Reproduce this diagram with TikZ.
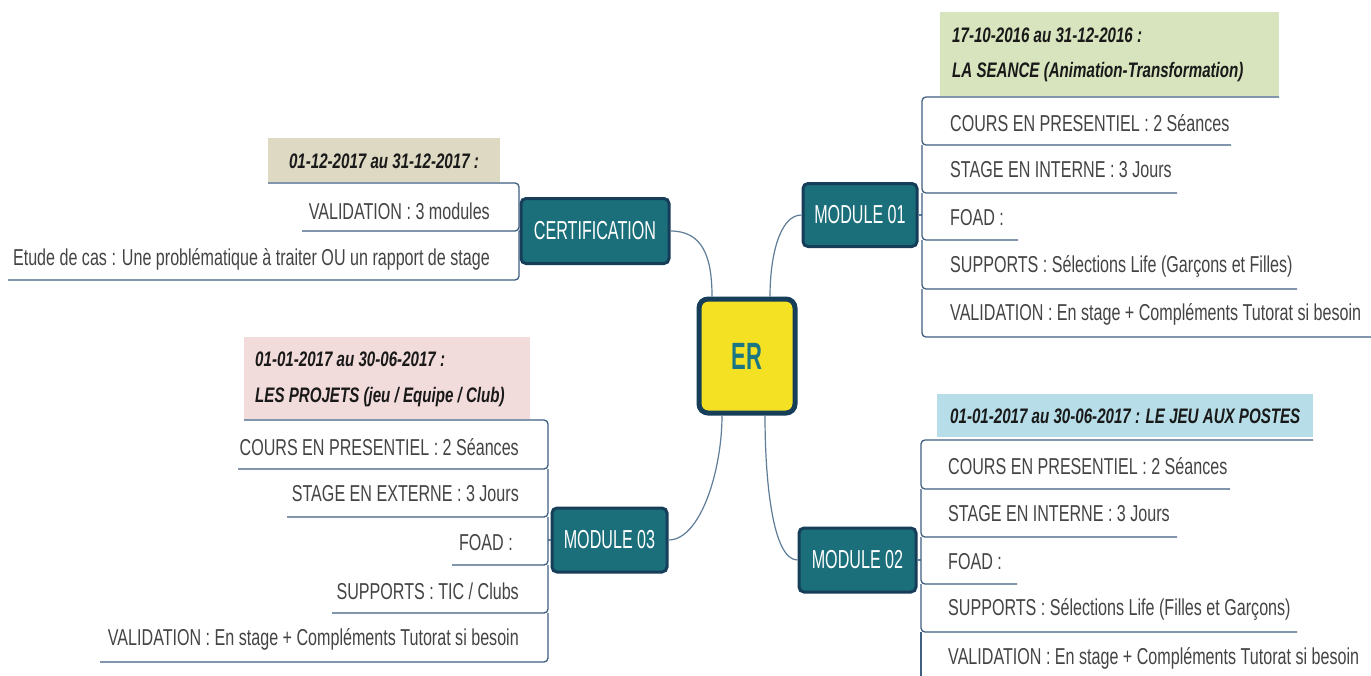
\documentclass[tikz,border=0pt]{standalone}
\usepackage{fontspec}
\setmainfont{Liberation Sans}[FakeStretch=0.70]
\newfontfamily\itemfont{Liberation Sans}[FakeStretch=0.70]
\newfontfamily\hdrfont{Liberation Sans}[FakeStretch=0.72]
\newfontfamily\modfont{Liberation Sans}[FakeStretch=0.62]
\newfontfamily\erfont{Liberation Sans}[FakeStretch=0.58]
\usetikzlibrary{calc}
\definecolor{tealbox}{HTML}{1B6F7A}
\definecolor{navy}{HTML}{163E58}
\definecolor{yel}{HTML}{F4E124}
\definecolor{ertxt}{HTML}{1B7683}
\definecolor{linec}{HTML}{3E5F80}
\definecolor{conn}{HTML}{5E7D98}
\definecolor{txtc}{HTML}{444444}
\definecolor{hgreen}{HTML}{D7E4BD}
\definecolor{htan}{HTML}{DDD9C3}
\definecolor{hpink}{HTML}{F2DCDB}
\definecolor{hblue}{HTML}{B7DEE8}
\tikzset{
  modbox/.style={draw=navy, line width=3pt, fill=tealbox, rounded corners=5pt, text=white, inner sep=0pt, font=\modfont\fontsize{26}{30}\selectfont},
  erbox/.style={draw=navy, line width=5pt, fill=yel, rounded corners=9pt, text=ertxt, inner sep=0pt, font=\erfont\bfseries\fontsize{38}{44}\selectfont},
  item/.style={text=txtc, inner sep=0pt, font=\itemfont\fontsize{23}{27}\selectfont},
  hdr/.style={inner sep=0pt, font=\hdrfont\fontsize{21}{25}\selectfont\bfseries\itshape, text=black!90},
  br/.style={draw=linec, line width=1.3pt, rounded corners=4pt},
  cn/.style={draw=conn, line width=1.2pt}
}
\begin{document}
\begin{tikzpicture}[x=1pt,y=-1pt]
\useasboundingbox[fill=white] (0,0) rectangle (1371,675);
% central node
\node[erbox, minimum width=96pt, minimum height=114pt] (er) at (747,356) {ER};
% modules
\node[modbox, minimum width=114pt, minimum height=63pt] (m1) at (860,215) {MODULE 01};
\node[modbox, minimum width=117pt, minimum height=64pt] (m2) at (857.5,560) {MODULE 02};
\node[modbox, minimum width=115pt, minimum height=64pt] (m3) at (609.5,540) {MODULE 03};
\node[modbox, minimum width=148pt, minimum height=65pt] (cert) at (595,231) {CERTIFICATION};
% connectors
\draw[cn] (cert.east) .. controls +(32,0) and +(0,-40) .. ([xshift=-35pt]er.north);
\draw[cn] (m1.west) .. controls +(-22,0) and +(0,-40) .. ([xshift=23pt]er.north);
\draw[cn] (m3.east) .. controls +(32,0) and +(0,55) .. ([xshift=-25pt]er.south);
\draw[cn] (m2.west) .. controls +(-25,0) and +(0,65) .. ([xshift=18pt]er.south);

% ---------- MODULE 01 ----------
\node[fill=hgreen, minimum width=339pt, minimum height=84pt, inner sep=0pt] (h1) at (1109.5,54) {};
\node[hdr, anchor=west] (h1a) at (952,35) {17-10-2016 au 31-12-2016 :};
\node[hdr, anchor=west] (h1b) at (952,72) {LA SEANCE (Animation-Transformation)};
\coordinate (b1) at (922,215);
\draw[cn] (m1.east) -- (b1);
\draw[br] (1279,97) -- (922,97) -- (922,145) -- (1231,145);
\draw[br] (922,145) -- (922,193) -- (1177,193);
\draw[br] (922,193) -- (922,240) -- (1018,240);
\draw[br] (922,240) -- (922,289) -- (1297,289);
\draw[br] (922,289) -- (922,337) -- (1371,337);
\node[item, anchor=west] (a1) at (950,123) {COURS EN PRESENTIEL : 2 Séances};
\node[item, anchor=west] (a2) at (950,170) {STAGE EN INTERNE : 3 Jours};
\node[item, anchor=west] (a3) at (950,218) {FOAD :};
\node[item, anchor=west] (a4) at (950,266) {SUPPORTS : Sélections Life (Garçons et Filles)};
\node[item, anchor=west] (a5) at (950,314) {VALIDATION : En stage + Compléments Tutorat si besoin};

% ---------- MODULE 02 ----------
\node[fill=hblue, minimum width=376pt, minimum height=43pt, inner sep=0pt] (h2) at (1125,415.5) {};
\node[hdr, anchor=west] (h2a) at (950,416) {01-01-2017 au 30-06-2017 : LE JEU AUX POSTES};
\coordinate (b2) at (921,560);
\draw[cn] (m2.east) -- (b2);
\draw[br] (1313,440) -- (921,440) -- (921,489) -- (1230,489);
\draw[br] (921,489) -- (921,537) -- (1177,537);
\draw[br] (921,537) -- (921,584) -- (1017,584);
\draw[br] (921,584) -- (921,632) -- (1297,632);
\draw[br] (921,632) -- (921,676);
\node[item, anchor=west] (c1) at (948,466) {COURS EN PRESENTIEL : 2 Séances};
\node[item, anchor=west] (c2) at (948,514) {STAGE EN INTERNE : 3 Jours};
\node[item, anchor=west] (c3) at (948,562) {FOAD :};
\node[item, anchor=west] (c4) at (948,609) {SUPPORTS : Sélections Life (Filles et Garçons)};
\node[item, anchor=west] (c5) at (948,658) {VALIDATION : En stage + Compléments Tutorat si besoin};

% ---------- MODULE 03 ----------
\node[fill=hpink, minimum width=286pt, minimum height=82pt, inner sep=0pt] (h3) at (387,378) {};
\node[hdr, anchor=west] (h3a) at (255,359) {01-01-2017 au 30-06-2017 :};
\node[hdr, anchor=west] (h3b) at (255,397) {LES PROJETS (jeu / Equipe / Club)};
\coordinate (b3) at (548,540);
\draw[cn] (m3.west) -- (b3);
\draw[br] (244,420) -- (548,420) -- (548,469) -- (238,469);
\draw[br] (548,469) -- (548,517) -- (287,517);
\draw[br] (548,517) -- (548,565) -- (452,565);
\draw[br] (548,565) -- (548,613) -- (332,613);
\draw[br] (548,613) -- (548,662) -- (100,662);
\node[item, anchor=east] (d1) at (519,447) {COURS EN PRESENTIEL : 2 Séances};
\node[item, anchor=east] (d2) at (519,494) {STAGE EN EXTERNE : 3 Jours};
\node[item, anchor=east] (d3) at (513,543) {FOAD :};
\node[item, anchor=east] (d4) at (519,591) {SUPPORTS : TIC / Clubs};
\node[item, anchor=east] (d5) at (519,639) {VALIDATION : En stage + Compléments Tutorat si besoin};

% ---------- CERTIFICATION ----------
\node[fill=htan, minimum width=232pt, minimum height=44pt, inner sep=0pt] (h4) at (384,160) {};
\node[hdr] (h4a) at (384,161) {01-12-2017 au 31-12-2017 :};
\coordinate (b4) at (519,231);
\draw[cn] (cert.west) -- (b4);
\draw[br] (268,183) -- (519,183) -- (519,231) -- (302,231);
\draw[br] (519,231) -- (519,280) -- (8,280);
\node[item, anchor=east] (e1) at (490,211) {VALIDATION : 3 modules};
\node[item, anchor=east] (e2) at (490,259) {Etude de cas : Une problématique à traiter OU un rapport de stage};
\end{tikzpicture}
\end{document}
